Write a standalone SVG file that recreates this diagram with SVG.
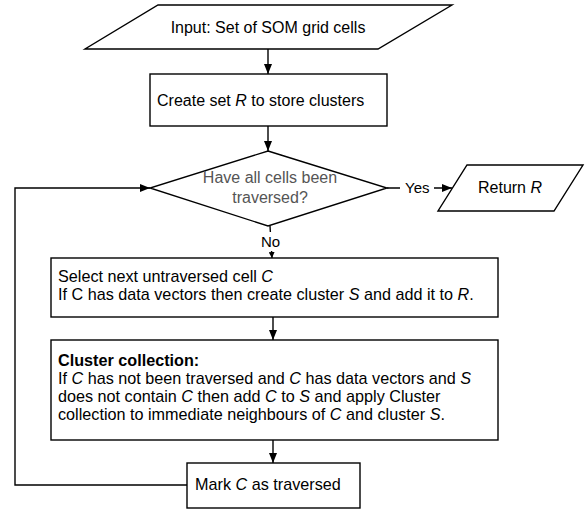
<svg xmlns="http://www.w3.org/2000/svg" width="585" height="512" viewBox="0 0 585 512">
<style>
.s{fill:#fff;stroke:#000;stroke-width:1.4}
.t{font-family:"Liberation Sans",Arial,sans-serif;font-size:16px;fill:#000}
.w{font-size:16.2px}
.g{fill:#555}
.c{fill:none;stroke:#000;stroke-width:1.4}
.i{font-style:italic}
.b{font-weight:bold}
</style>
<defs>
<marker id="a" markerWidth="10" markerHeight="8" refX="10" refY="4" orient="auto" markerUnits="userSpaceOnUse">
<path d="M0,0 L10,4 L0,8 Z" fill="#000"/>
</marker>
<marker id="as" markerWidth="6" markerHeight="6" refX="6" refY="3" orient="auto" markerUnits="userSpaceOnUse">
<path d="M0,0 L6,3 L0,6 Z" fill="#000"/>
</marker>
</defs>
<rect width="585" height="512" fill="#fff"/>
<g id="connectors">
<line class="c" x1="268" y1="49" x2="268" y2="74" marker-end="url(#a)"/>
<line class="c" x1="268" y1="126" x2="268" y2="151" marker-end="url(#a)"/>
<line class="c" x1="387" y1="188" x2="452" y2="188" marker-end="url(#a)"/>
<line class="c" x1="270" y1="226" x2="272" y2="258" marker-end="url(#as)"/>
<line class="c" x1="273" y1="317" x2="273" y2="340" marker-end="url(#a)"/>
<line class="c" x1="273" y1="440" x2="273" y2="463" marker-end="url(#a)"/>
<polyline class="c" points="187,485 15,485 15,188 150,188" marker-end="url(#a)"/>
<rect x="400" y="178" width="34" height="20" fill="#fff"/>
<text class="t" x="405" y="193" style="font-size:15px">Yes</text>
<rect x="260" y="232" width="22" height="19" fill="#fff"/>
<text class="t" x="270.5" y="247" text-anchor="middle" style="font-size:15px">No</text>
</g>
<g id="input">
<polygon class="s" points="158,5 452,5 378,49 85,49"/>
<text class="t" x="268" y="33" text-anchor="middle">Input: Set of SOM grid cells</text>
</g>
<g id="create">
<rect class="s" x="150" y="74" width="237" height="52"/>
<text class="t" x="157" y="106">Create set <tspan class="i">R</tspan> to store clusters</text>
</g>
<g id="decision">
<polygon class="s" points="268,151 387,188 268,226 150,188"/>
<text class="t g" x="270" y="183" text-anchor="middle">Have all cells been</text>
<text class="t g" x="270" y="203" text-anchor="middle">traversed?</text>
</g>
<g id="return">
<polygon class="s" points="467,165 583,165 554,211 438,211"/>
<text class="t" x="510" y="193" text-anchor="middle">Return <tspan class="i">R</tspan></text>
</g>
<g id="select">
<rect class="s" x="51" y="258" width="447" height="59"/>
<text class="t w" x="58" y="282">Select next untraversed cell <tspan class="i">C</tspan></text>
<text class="t w" x="58" y="300">If C has data vectors then create cluster <tspan class="i">S</tspan> and add it to <tspan class="i">R</tspan>.</text>
</g>
<g id="collection">
<rect class="s" x="51" y="340" width="447" height="100"/>
<text class="t w b" x="58" y="366">Cluster collection:</text>
<text class="t w" x="58" y="384">If <tspan class="i">C</tspan> has not been traversed and <tspan class="i">C</tspan> has data vectors and <tspan class="i">S</tspan></text>
<text class="t w" x="58" y="402">does not contain <tspan class="i">C</tspan> then add <tspan class="i">C</tspan> to <tspan class="i">S</tspan> and apply Cluster</text>
<text class="t w" x="58" y="420">collection to immediate neighbours of <tspan class="i">C</tspan> and cluster <tspan class="i">S</tspan>.</text>
</g>
<g id="mark">
<rect class="s" x="187" y="463" width="173" height="45"/>
<text class="t w" x="195" y="490">Mark <tspan class="i">C</tspan> as traversed</text>
</g>
</svg>
